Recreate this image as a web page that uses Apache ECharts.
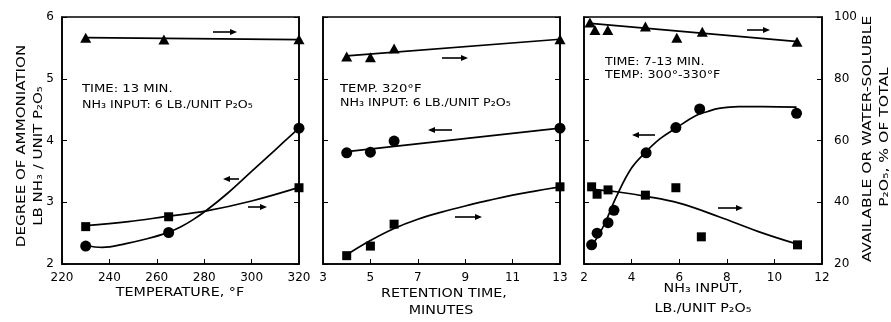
<!DOCTYPE html>
<html><head><meta charset="utf-8">
<script src="https://cdn.jsdelivr.net/npm/echarts@6/dist/echarts.min.js"></script>
<style>html,body{margin:0;padding:0;background:#fff}#c{width:891px;height:322px}</style>
</head><body><div id="c"></div>
<script>
// ---------- Panel 1: temperature ----------
const tempTriX = [230, 263, 320];
const tempTriY = [93.3, 92.7, 92.8];          // % (right axis)
const tempCirX = [230, 265, 320];
const tempCirY = [2.29, 2.51, 4.20];          // lb NH3 / unit P2O5 (left axis)
const tempSqX = [230, 265, 320];
const tempSqY = [32.1, 35.3, 44.7];           // % (right axis)
const tempTriFitX = [230, 320];
const tempTriFitY = [93.3, 92.7];
const tempCirFitX = [230, 237, 247, 255, 264, 270, 275, 281, 290, 300, 310, 320];
const tempCirFitY = [2.30, 2.27, 2.33, 2.40, 2.50, 2.60, 2.71, 2.87, 3.15, 3.50, 3.85, 4.20];
const tempSqFitX = [230, 248, 264, 281, 300, 320];
const tempSqFitY = [32.4, 33.7, 35.4, 37.2, 40.4, 44.8];

// ---------- Panel 2: retention time ----------
const timeTriX = [4, 5, 6, 13];
const timeTriY = [87.2, 87.0, 89.8, 92.8];
const timeCirX = [4, 5, 6, 13];
const timeCirY = [3.80, 3.81, 3.99, 4.20];
const timeSqX = [4, 5, 6, 13];
const timeSqY = [22.7, 25.8, 32.9, 45.0];
const timeTriFitX = [4, 13];
const timeTriFitY = [87.4, 92.8];
const timeCirFitX = [4, 13];
const timeCirFitY = [3.82, 4.20];
const timeSqFitX = [4, 5, 6, 7, 8, 9, 10, 11, 12, 13];
const timeSqFitY = [23.0, 27.6, 31.5, 34.5, 36.8, 38.8, 40.6, 42.3, 43.7, 45.0];

// ---------- Panel 3: NH3 input ----------
const nh3TriX = [2.25, 2.46, 3.0, 4.58, 5.9, 6.97, 10.95];
const nh3TriY = [98.2, 95.8, 95.8, 96.9, 93.3, 95.2, 92.0];
const nh3CirX = [2.32, 2.55, 3.01, 3.26, 4.61, 5.86, 6.86, 10.93];
const nh3CirY = [2.31, 2.50, 2.67, 2.87, 3.80, 4.21, 4.51, 4.44];
const nh3SqX = [2.32, 2.55, 3.01, 4.58, 5.86, 6.93, 10.97];
const nh3SqY = [45.0, 42.6, 44.0, 42.3, 44.7, 28.8, 26.2];
const nh3TriFitX = [2.15, 11.0];
const nh3TriFitY = [98.0, 92.0];
const nh3CirFitX = [2.3, 2.6, 2.88, 3.36, 3.99, 4.61, 5.2, 5.86, 6.69, 7.2, 7.67, 8.5, 9.5, 10.93];
const nh3CirFitY = [2.28, 2.46, 2.66, 3.09, 3.55, 3.82, 4.03, 4.20, 4.40, 4.47, 4.52, 4.55, 4.55, 4.54];
const nh3SqFitX = [2.32, 3.36, 4.54, 6.0, 7.67, 9.33, 10.93];
const nh3SqFitY = [44.2, 43.4, 42.0, 39.7, 35.3, 30.5, 26.5];

// ---------- Axis ranges / ticks ----------
const leftAxisRange = [2, 6, 1];
const rightAxisRange = [20, 100, 20];
const xRanges = [[220, 320, 20], [3, 13, 2], [2, 12, 2]];

const FONT = 'DejaVu Sans';
const zip = (xs, ys) => xs.map((x, i) => [x, ys[i]]);

const grids = [
  {left: 62, top: 17, width: 237, height: 247},
  {left: 323, top: 17, width: 237, height: 247},
  {left: 584, top: 17, width: 238, height: 247}
].map(g => Object.assign(g, {show: true, borderColor: '#000', borderWidth: 1.6, backgroundColor: 'transparent'}));

const xAxis = xRanges.map((r, i) => ({
  type: 'value', gridIndex: i, min: r[0], max: r[1], interval: r[2],
  axisLine: {show: true, lineStyle: {color: '#000', width: 1.6}},
  axisTick: {show: true, inside: true, length: 5, lineStyle: {color: '#000'}},
  splitLine: {show: false},
  axisLabel: {color: '#000', fontFamily: FONT, fontSize: 12, margin: 8, showMinLabel: true, showMaxLabel: true}
}));

const yAxis = [];
for (let i = 0; i < 3; i++) {
  yAxis.push({
    type: 'value', gridIndex: i, position: 'left', min: leftAxisRange[0], max: leftAxisRange[1], interval: leftAxisRange[2],
    axisLine: {show: true, lineStyle: {color: '#000', width: 1.6}},
    axisTick: {show: true, inside: true, length: 5, lineStyle: {color: '#000'}},
    splitLine: {show: false},
    axisLabel: {show: i === 0, color: '#000', fontFamily: FONT, fontSize: 12, margin: 8}
  });
  yAxis.push({
    type: 'value', gridIndex: i, position: 'right', min: rightAxisRange[0], max: rightAxisRange[1], interval: rightAxisRange[2],
    axisLine: {show: true, lineStyle: {color: '#000', width: 1.6}},
    axisTick: {show: true, inside: true, length: 5, lineStyle: {color: '#000'}},
    splitLine: {show: false},
    axisLabel: {show: i === 2, color: '#000', fontFamily: FONT, fontSize: 12, margin: 12}
  });
}

const series = [];
function pts(panel, axisSide, xs, ys, symbol, size) {
  series.push({type: 'scatter', xAxisIndex: panel, yAxisIndex: panel * 2 + axisSide,
    data: zip(xs, ys), symbol: symbol, symbolSize: size,
    itemStyle: {color: '#000', opacity: 1}, z: 5});
}
function fit(panel, axisSide, xs, ys, smooth) {
  series.push({type: 'line', xAxisIndex: panel, yAxisIndex: panel * 2 + axisSide,
    data: zip(xs, ys), showSymbol: false, smooth: smooth,
    lineStyle: {color: '#000', width: 1.7}, z: 3});
}
const panels = [
  [tempTriX, tempTriY, tempCirX, tempCirY, tempSqX, tempSqY, tempTriFitX, tempTriFitY, tempCirFitX, tempCirFitY, tempSqFitX, tempSqFitY],
  [timeTriX, timeTriY, timeCirX, timeCirY, timeSqX, timeSqY, timeTriFitX, timeTriFitY, timeCirFitX, timeCirFitY, timeSqFitX, timeSqFitY],
  [nh3TriX, nh3TriY, nh3CirX, nh3CirY, nh3SqX, nh3SqY, nh3TriFitX, nh3TriFitY, nh3CirFitX, nh3CirFitY, nh3SqFitX, nh3SqFitY]
];
panels.forEach((p, i) => {
  fit(i, 1, p[6], p[7], false);
  fit(i, 0, p[8], p[9], 0.4);
  fit(i, 1, p[10], p[11], 0.4);
  pts(i, 1, p[0], p[1], 'triangle', [11, 10]);
  pts(i, 0, p[2], p[3], 'circle', 11);
  pts(i, 1, p[4], p[5], 'rect', 9);
});

// ---------- annotations ----------
function txt(x, y, s, size, opts) {
  opts = opts || {};
  return {type: 'text', x: x, y: y, rotation: opts.rot || 0, scaleX: opts.sx || 1, z: 10,
    style: {text: s, fontFamily: FONT, fontSize: size, fill: '#000',
      align: opts.align || 'left', verticalAlign: 'middle'}};
}
function arrow(x1, x2, y) {
  const dir = x2 > x1 ? 1 : -1;
  const hx = x2 - dir * 7;
  return {type: 'group', z: 10, children: [
    {type: 'line', shape: {x1: x1, y1: y, x2: hx, y2: y}, style: {stroke: '#000', lineWidth: 1.6}},
    {type: 'polygon', shape: {points: [[x2, y], [hx, y - 3], [hx, y + 3]]}, style: {fill: '#000'}}
  ]};
}
const graphic = [
  txt(82, 89, 'TIME: 13 MIN.', 11, {sx: 1.2}),
  txt(82, 105, 'NH₃ INPUT: 6 LB./UNIT P₂O₅', 11, {sx: 1.15}),
  txt(340, 89, 'TEMP. 320°F', 11, {sx: 1.2}),
  txt(340, 103, 'NH₃ INPUT: 6 LB./UNIT P₂O₅', 11, {sx: 1.15}),
  txt(605, 62, 'TIME: 7-13 MIN.', 11, {sx: 1.15}),
  txt(605, 75, 'TEMP: 300°-330°F', 11, {sx: 1.15}),
  arrow(213, 237, 32), arrow(239, 223, 179), arrow(248, 267, 207),
  arrow(442, 468, 58), arrow(452, 428, 130), arrow(455, 482, 217),
  arrow(747, 770, 30), arrow(655, 632, 135), arrow(718, 743, 208),
  txt(180, 293, 'TEMPERATURE, °F', 13, {align: 'center', sx: 1.1}),
  txt(444, 294, 'RETENTION TIME,', 13, {align: 'center', sx: 1.1}),
  txt(441, 311, 'MINUTES', 13, {align: 'center', sx: 1.1}),
  txt(703, 289, 'NH₃ INPUT,', 13, {align: 'center', sx: 1.1}),
  txt(703, 309, 'LB./UNIT P₂O₅', 13, {align: 'center', sx: 1.1}),
  txt(22, 146, 'DEGREE OF AMMONIATION', 13, {align: 'center', rot: Math.PI / 2, sx: 1.16}),
  txt(39, 156, 'LB NH₃ / UNIT P₂O₅', 13, {align: 'center', rot: Math.PI / 2, sx: 1.15}),
  txt(868, 139, 'AVAILABLE OR WATER-SOLUBLE', 13, {align: 'center', rot: Math.PI / 2, sx: 1.2}),
  txt(885, 137, 'P₂O₅, % OF TOTAL', 13, {align: 'center', rot: Math.PI / 2, sx: 1.2})
];

const chart = echarts.init(document.getElementById('c'), null, {renderer: 'canvas'});
chart.setOption({
  animation: false,
  backgroundColor: '#fff',
  grid: grids,
  xAxis: xAxis,
  yAxis: yAxis,
  series: series,
  graphic: graphic
});
</script></body></html>
